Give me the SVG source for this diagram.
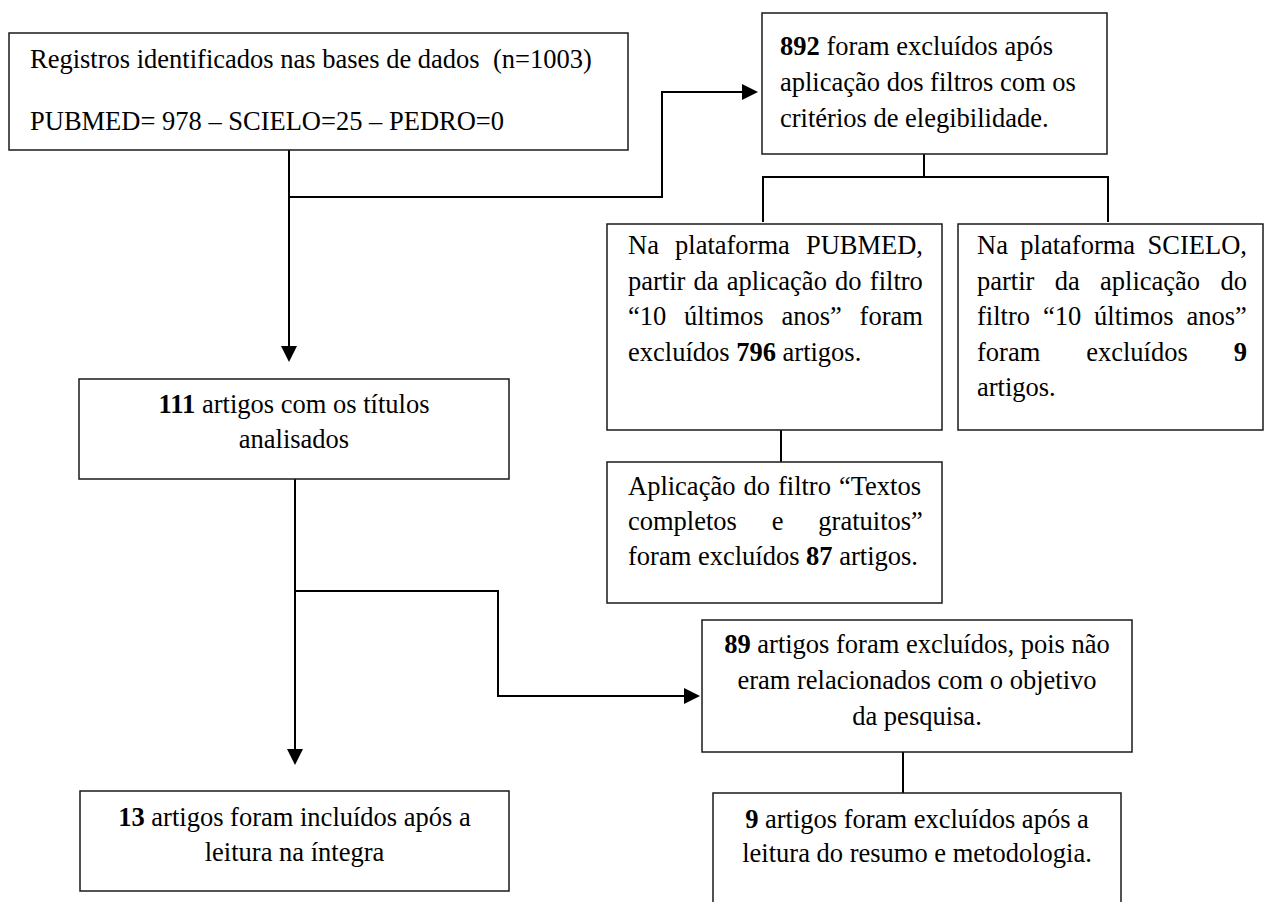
<svg xmlns="http://www.w3.org/2000/svg" width="1266" height="902" viewBox="0 0 1266 902">
<style>
.bg{fill:#fff}
.box{fill:#fff;stroke:#1a1a1a;stroke-width:1.5}
.t{font-family:"Liberation Serif","Times New Roman",serif;font-size:26.5px;fill:#000;white-space:pre}
.c{text-anchor:middle}
.b{font-weight:bold}
.ln{fill:none;stroke:#000;stroke-width:2}
.ar{marker-end:url(#arr)}
</style>
<defs>
<marker id="arr" markerUnits="userSpaceOnUse" markerWidth="16" markerHeight="16" viewBox="0 0 16 16" refX="4" refY="8" orient="auto">
<path d="M0,0 L16,8 L0,16 Z" fill="#000"/>
</marker>
</defs>
<rect class="bg" x="0" y="0" width="1266" height="902"/>

<g id="connectors">
<path class="ln ar" d="M289,150 V350"/>
<path class="ln ar" d="M289,197 H662 V92 H746"/>
<path class="ln" d="M924,154 V177"/>
<path class="ln" d="M763,222 V177 H1108 V222"/>
<path class="ln" d="M781,430 V462"/>
<path class="ln ar" d="M295,479 V753"/>
<path class="ln ar" d="M295,591 H498 V696 H688"/>
<path class="ln" d="M903,752 V793"/>
</g>

<g id="n-registros">
<rect class="box" x="9" y="33" width="619" height="117"/>
<text class="t" x="30" y="68" xml:space="preserve">Registros identificados nas bases de dados  (n=1003)</text>
<text class="t" x="30" y="130">PUBMED= 978 – SCIELO=25 – PEDRO=0</text>
</g>

<g id="n-892">
<rect class="box" x="762" y="13" width="345" height="141"/>
<text class="t" x="780" y="55"><tspan class="b">892</tspan> foram excluídos após</text>
<text class="t" x="780" y="91">aplicação dos filtros com os</text>
<text class="t" x="780" y="127">critérios de elegibilidade.</text>
</g>

<g id="n-pubmed">
<rect class="box" x="607" y="224" width="335" height="206"/>
<text class="t" x="628" y="254" style="word-spacing:9.5px">Na plataforma PUBMED,</text>
<text class="t" x="628" y="290" style="word-spacing:1.6px">partir da aplicação do filtro</text>
<text class="t" x="628" y="325" style="word-spacing:11.2px">“10 últimos anos” foram</text>
<text class="t" x="628" y="361">excluídos <tspan class="b">796</tspan> artigos.</text>
</g>

<g id="n-scielo">
<rect class="box" x="958" y="224" width="305" height="206"/>
<text class="t" x="977" y="254" style="word-spacing:5.8px">Na plataforma SCIELO,</text>
<text class="t" x="977" y="290" style="word-spacing:13.7px">partir da aplicação do</text>
<text class="t" x="977" y="325" style="word-spacing:6.3px">filtro “10 últimos anos”</text>
<text class="t" x="977" y="361" style="word-spacing:39.3px">foram excluídos <tspan class="b">9</tspan></text>
<text class="t" x="977" y="396">artigos.</text>
</g>

<g id="n-87">
<rect class="box" x="607" y="462" width="335" height="141"/>
<text class="t" x="628" y="495" style="word-spacing:1.4px">Aplicação do filtro “Textos</text>
<text class="t" x="628" y="530" style="word-spacing:28.2px">completos e gratuitos”</text>
<text class="t" x="628" y="565">foram excluídos <tspan class="b">87</tspan> artigos.</text>
</g>

<g id="n-111">
<rect class="box" x="79" y="379" width="430" height="100"/>
<text class="t c" x="294" y="413"><tspan class="b">111</tspan> artigos com os títulos</text>
<text class="t c" x="294" y="448">analisados</text>
</g>

<g id="n-89">
<rect class="box" x="702" y="620" width="430" height="132"/>
<text class="t c" x="917" y="653"><tspan class="b">89</tspan> artigos foram excluídos, pois não</text>
<text class="t c" x="917" y="689">eram relacionados com o objetivo</text>
<text class="t c" x="917" y="725">da pesquisa.</text>
</g>

<g id="n-13">
<rect class="box" x="80" y="791" width="429" height="100"/>
<text class="t c" x="294.5" y="826"><tspan class="b">13</tspan> artigos foram incluídos após a</text>
<text class="t c" x="294.5" y="861">leitura na íntegra</text>
</g>

<g id="n-9">
<rect class="box" x="713" y="793" width="408" height="130"/>
<text class="t c" x="917" y="828"><tspan class="b">9</tspan> artigos foram excluídos após a</text>
<text class="t c" x="917" y="862">leitura do resumo e metodologia.</text>
</g>
</svg>
